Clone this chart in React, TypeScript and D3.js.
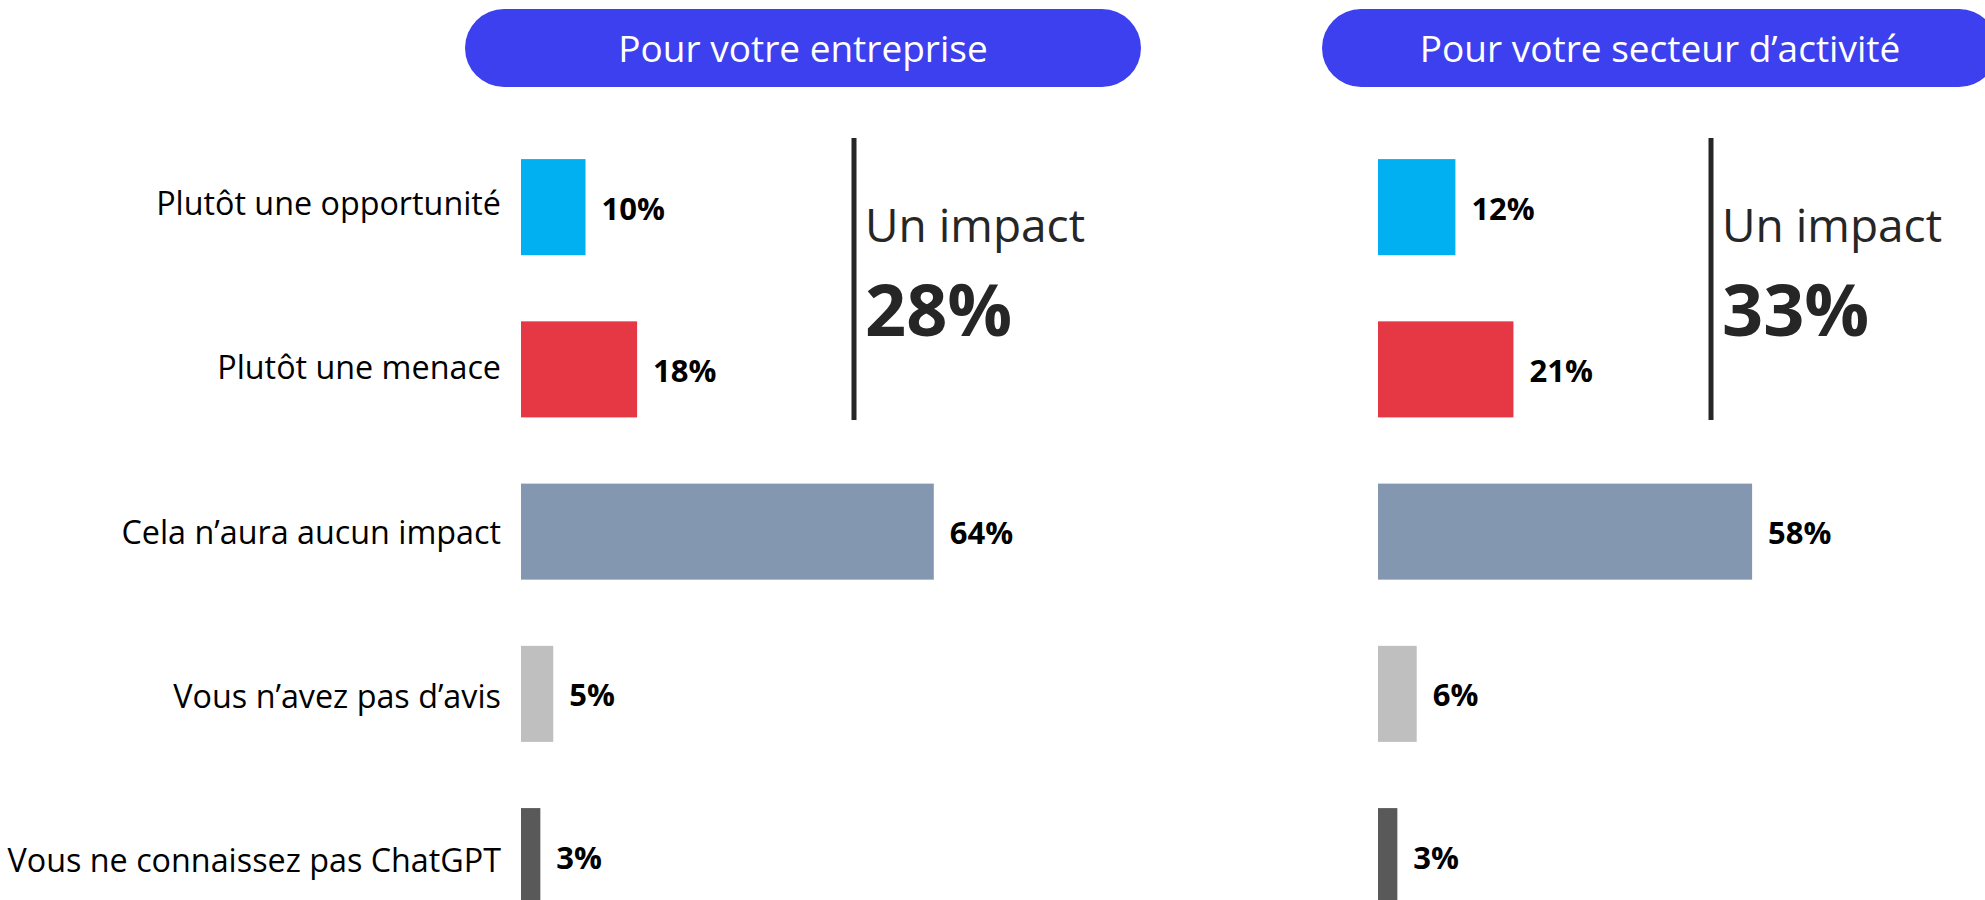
import React from "react";
import * as d3 from "d3";

const categories = [
  "Plutôt une opportunité",
  "Plutôt une menace",
  "Cela n’aura aucun impact",
  "Vous n’avez pas d’avis",
  "Vous ne connaissez pas ChatGPT",
];
const enterpriseValues = [10, 18, 64, 5, 3];
const sectorValues = [12, 21, 58, 6, 3];
const barColors = ["#00B0F0", "#E53844", "#8497B0", "#BFBFBF", "#595959"];
const panelTitles = ["Pour votre entreprise", "Pour votre secteur d’activité"];
const impactLabel = "Un impact";
const impactValues = [28, 33];

const W = 1985;
const H = 900;
const FONT = "'Open Sans', 'Noto Sans', sans-serif";

const panels = [
  { title: panelTitles[0], values: enterpriseValues, impact: impactValues[0], x0: 521, pillX: 465 },
  { title: panelTitles[1], values: sectorValues, impact: impactValues[1], x0: 1378, pillX: 1322 },
];

export default function App() {
  const y = d3
    .scaleBand<string>()
    .domain(categories)
    .range([126, 126 + 5 * 162.25])
    .paddingInner(0.408)
    .paddingOuter(0.204);
  const labelY = d3.scalePoint<string>().domain(categories).range([215, 872]);
  const x = d3.scaleLinear().domain([0, 100]).range([0, 645]);
  const bw = y.bandwidth();

  return (
    <svg
      width={W}
      height={H}
      style={{ position: "absolute", left: 0, top: 0, display: "block", background: "#fff" }}
      fontFamily={FONT}
    >
      {categories.map((c) => (
        <text key={c} x={501} y={labelY(c)} textAnchor="end" fontSize={32.3} fill="#000">
          {c}
        </text>
      ))}
      {panels.map((p, pi) => (
        <g key={pi}>
          <rect x={p.pillX} y={9} width={676} height={78} rx={39} ry={39} fill="#3D40EE" />
          <text x={p.pillX + 338} y={62} textAnchor="middle" fontSize={37} fill="#fff">
            {p.title}
          </text>
          {categories.map((c, i) => {
            const v = p.values[i];
            const yy = y(c) as number;
            return (
              <g key={c}>
                <rect x={p.x0} y={yy} width={x(v)} height={bw} fill={barColors[i]} />
                <text
                  x={p.x0 + x(v) + 16}
                  y={yy + bw / 2 + 12.5}
                  fontSize={31}
                  fontWeight={700}
                  fill="#000"
                >
                  {d3.format("d")(v)}%
                </text>
              </g>
            );
          })}
          <line
            x1={p.x0 + 333}
            x2={p.x0 + 333}
            y1={138}
            y2={420}
            stroke="#262626"
            strokeWidth={5}
          />
          <text x={p.x0 + 344} y={242} fontSize={46} fill="#262626">
            {impactLabel}
          </text>
          <text x={p.x0 + 344} y={336} fontSize={72} fontWeight={700} fill="#262626">
            {p.impact}%
          </text>
        </g>
      ))}
    </svg>
  );
}
